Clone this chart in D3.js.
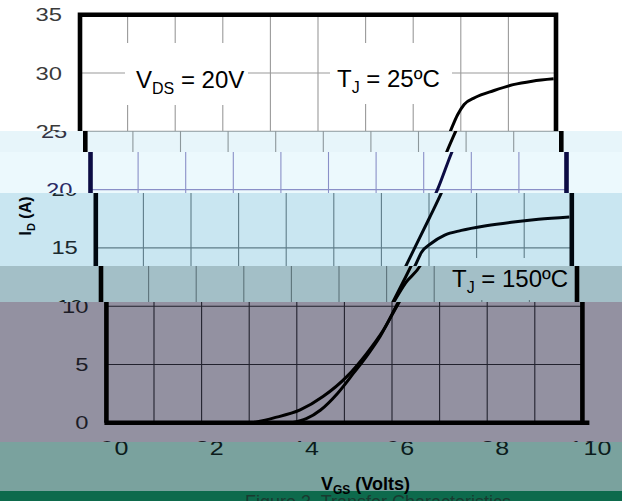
<!DOCTYPE html>
<html>
<head>
<meta charset="utf-8">
<script src="https://cdn.jsdelivr.net/npm/d3@7"></script>
<style>
body{margin:0;background:#fff}
svg{display:block}
</style>
</head>
<body>
<svg></svg>
<script>
// transfer curves (V_GS in volts, I_D in amps)
var vgs25 = [3.9, 4.2, 4.5, 4.85, 5.2, 5.5, 5.75, 6.1, 6.4, 6.7, 7.0, 7.3, 7.58, 7.78, 7.93, 8.07, 8.3, 8.7, 9.1, 9.5, 9.95]
var id25  = [0, 0.35, 1.1, 2.5, 4.3, 5.9, 7.4, 10.1, 12.5, 15.0, 17.5, 20.1, 23.1, 25.0, 26.4, 27.3, 27.9, 28.5, 29.0, 29.3, 29.5]
var vgs150 = [3.08, 3.5, 4.07, 4.55, 5.05, 5.47, 5.82, 6.13, 6.4, 6.71, 6.84, 7.05, 7.33, 7.68, 8.2, 8.73, 9.3, 9.95]
var id150  = [0, 0.4, 1.1, 2.25, 3.96, 5.96, 7.96, 10.2, 12.0, 13.5, 14.6, 15.4, 16.1, 16.5, 16.9, 17.2, 17.45, 17.65]

var xTicks = [0, 2, 4, 6, 8, 10]
var yTicks = [0, 5, 10, 15, 20, 25, 30, 35]
var xGrid = [1, 2, 3, 4, 5, 6, 7, 8, 9]
var yGrid = [5, 10, 15, 20, 25, 30]

var screen = {width: 622, height: 501}
var frame = {left: 80, right: 556, top: 14.7, bottom: 422.8}

// the scan is cut in strips, each one slid right and tinted
var strips = [
    {y0: 0,   y1: 131, dx: 0,    bg: "#ffffff", grid: "#9a9a9a", ink: "#000000", text: "#3a3a3a"},
    {y0: 131, y1: 152, dx: 5.3,  bg: "#e7f5fa", grid: "#8c979b", ink: "#000000", text: "#333344"},
    {y0: 152, y1: 193, dx: 10.5, bg: "#ecf9fd", grid: "#8a90c8", ink: "#0c0c44", text: "#2a2a66"},
    {y0: 193, y1: 266, dx: 15.8, bg: "#c9e6f1", grid: "#5e7c88", ink: "#000810", text: "#1a2a30"},
    {y0: 266, y1: 302, dx: 21,   bg: "#a3bfc7", grid: "#5d737a", ink: "#000000", text: "#101c20"},
    {y0: 302, y1: 442, dx: 26.4, bg: "#9391a1", grid: "#22222e", ink: "#000000", text: "#1c1c26"},
    {y0: 442, y1: 491, dx: 41,   bg: "#7aa29e", grid: "#22222e", ink: "#000000", text: "#0c1c1c"},
    {y0: 491, y1: 501, dx: 41,   bg: "#0d6a4c", grid: "#22222e", ink: "#000000", text: "#1a3a30"}
]

var xScale = d3.scaleLinear().domain([0, 10]).range([frame.left, frame.right])
var yScale = d3.scaleLinear().domain([0, 35]).range([frame.bottom, frame.top])

var line = d3.line()
    .x(function(d) { return xScale(d[0]) })
    .y(function(d) { return yScale(d[1]) })
    .curve(d3.curveMonotoneX)

var font = "Liberation Sans, Arial, sans-serif"

var stretch = function(sel, k)
{
    sel.each(function()
    {
        var w = this.getComputedTextLength()
        d3.select(this).attr("textLength", w * k).attr("lengthAdjust", "spacingAndGlyphs")
    })
}

var drawChart = function(g, s)
{
    // grid
    g.selectAll(".vgrid")
    .data(xGrid)
    .enter()
    .append("line")
    .attr("x1", function(d) { return xScale(d) })
    .attr("x2", function(d) { return xScale(d) })
    .attr("y1", frame.top)
    .attr("y2", frame.bottom)
    .attr("stroke", s.grid)
    .attr("stroke-width", 1.1)

    g.selectAll(".hgrid")
    .data(yGrid)
    .enter()
    .append("line")
    .attr("x1", frame.left)
    .attr("x2", frame.right)
    .attr("y1", function(d) { return yScale(d) })
    .attr("y2", function(d) { return yScale(d) })
    .attr("stroke", s.grid)
    .attr("stroke-width", 1.1)

    // label boxes hide the grid
    var boxes = [[125, 43, 123, 62], [330, 43, 122, 61], [415, 258, 138, 42]]
    g.selectAll(".box")
    .data(boxes)
    .enter()
    .append("rect")
    .attr("x", function(b) { return b[0] })
    .attr("y", function(b) { return b[1] })
    .attr("width", function(b) { return b[2] })
    .attr("height", function(b) { return b[3] })
    .attr("fill", s.bg)

    // curves
    g.append("path")
    .attr("d", line(d3.zip(vgs150, id150)))
    .attr("fill", "none")
    .attr("stroke", s.ink)
    .attr("stroke-width", 3)

    g.append("path")
    .attr("d", line(d3.zip(vgs25, id25)))
    .attr("fill", "none")
    .attr("stroke", s.ink)
    .attr("stroke-width", 3)

    // frame
    g.append("path")
    .attr("d", "M" + frame.left + "," + frame.bottom + "V" + frame.top + "H" + frame.right + "V" + frame.bottom)
    .attr("fill", "none")
    .attr("stroke", s.ink)
    .attr("stroke-width", 4.6)
    g.append("line")
    .attr("x1", frame.left - 2)
    .attr("x2", frame.right + 7)
    .attr("y1", frame.bottom)
    .attr("y2", frame.bottom)
    .attr("stroke", s.ink)
    .attr("stroke-width", 4.6)

    // tick labels
    var yAxis = g.append("g")
    .attr("transform", "translate(" + (frame.left - 18) + ",0)")
    .call(d3.axisLeft(yScale).tickValues(yTicks).tickSize(0).tickPadding(0))
    yAxis.select(".domain").remove()
    yAxis.selectAll("text")
    .attr("font-family", font)
    .attr("font-size", 19)
    .attr("fill", s.text)
    .call(stretch, 1.25)

    var xAxis = g.append("g")
    .attr("transform", "translate(0,441)")
    .call(d3.axisBottom(xScale).tickValues(xTicks).tickSize(0).tickPadding(0))
    xAxis.select(".domain").remove()
    xAxis.selectAll("text")
    .attr("font-family", font)
    .attr("font-size", 20)
    .attr("fill", s.text)
    .call(stretch, 1.25)

    // annotations
    var note = function(x, y, main, sub, rest)
    {
        var t = g.append("text")
        .attr("x", x)
        .attr("y", y)
        .attr("font-family", font)
        .attr("font-size", 24)
        .attr("fill", s.ink)
        t.append("tspan").text(main)
        t.append("tspan").attr("dy", 6).attr("font-size", 16).text(sub)
        t.append("tspan").attr("dy", -6).text(rest)
    }
    note(136, 88, "V", "DS", " = 20V")
    note(337, 87, "T", "J", " = 25ºC")
    note(431, 287, "T", "J", " = 150ºC")

    // axis titles
    var yt = g.append("text")
    .attr("transform", "translate(15,216) rotate(-90)")
    .attr("text-anchor", "middle")
    .attr("font-family", font)
    .attr("font-weight", "bold")
    .attr("font-size", 16)
    .attr("fill", s.ink)
    yt.append("tspan").text("I")
    yt.append("tspan").attr("dy", 4).attr("font-size", 11).text("D")
    yt.append("tspan").attr("dy", -4).text(" (A)")

    var xt = g.append("text")
    .attr("x", 280)
    .attr("y", 490)
    .attr("font-family", font)
    .attr("font-weight", "bold")
    .attr("font-size", 18)
    .attr("fill", s.ink)
    xt.append("tspan").text("V")
    xt.append("tspan").attr("dy", 4).attr("font-size", 12).text("GS")
    xt.append("tspan").attr("dy", -4).text(" (Volts)")

    g.append("text")
    .attr("x", 204)
    .attr("y", 508)
    .attr("font-family", font)
    .attr("font-size", 18)
    .attr("fill", s.text)
    .text("Figure 3. Transfer Characteristics")
}

var svg = d3.select("svg")
    .attr("width", screen.width)
    .attr("height", screen.height)

var defs = svg.append("defs")

strips.forEach(function(s, i)
{
    defs.append("clipPath")
    .attr("id", "strip" + i)
    .append("rect")
    .attr("x", 0)
    .attr("y", s.y0)
    .attr("width", screen.width)
    .attr("height", s.y1 - s.y0)

    var band = svg.append("g")
    .attr("clip-path", "url(#strip" + i + ")")

    band.append("rect")
    .attr("x", 0)
    .attr("y", s.y0)
    .attr("width", screen.width)
    .attr("height", s.y1 - s.y0)
    .attr("fill", s.bg)

    drawChart(band.append("g").attr("transform", "translate(" + s.dx + ",0)"), s)
})
</script>
</body>
</html>
